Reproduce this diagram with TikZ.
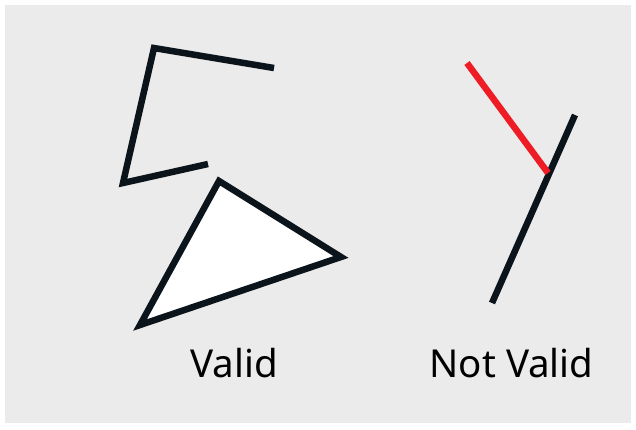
\documentclass[tikz,border=0pt]{standalone}
\usepackage{fontspec}
\setmainfont{Noto Sans}
\definecolor{bg}{HTML}{EBEBEB}
\definecolor{ink}{HTML}{0B141B}
\definecolor{redl}{HTML}{EE1C25}
\tikzset{
  seg/.style={draw=ink, line width=6.5pt, line join=miter},
  redseg/.style={draw=redl, line width=6.5pt},
  lbl/.style={font=\fontsize{38.5}{44}\selectfont, text=black, inner sep=0pt, anchor=base}
}
\begin{document}
\begin{tikzpicture}[x=1pt,y=-1pt]
\useasboundingbox (0,0) rectangle (636,429);
\fill[white] (0,0) rectangle (636,429);
\fill[bg] (5,5) rectangle (631,423);
% valid open polyline
\coordinate (p1) at (274,68);
\coordinate (p2) at (154,48);
\coordinate (p3) at (123,183);
\coordinate (p4) at (208,164);
\draw[seg] (p1) -- (p2) -- (p3) -- (p4);
% valid triangle
\coordinate (t1) at (219,181);
\coordinate (t2) at (341,257);
\coordinate (t3) at (140,325);
\filldraw[seg, fill=white] (t1) -- (t2) -- (t3) -- cycle;
% not valid
\coordinate (r1) at (467,63);
\coordinate (r2) at (548,173);
\coordinate (b1) at (575,115);
\coordinate (b2) at (492,303);
\draw[seg] (b1) -- (b2);
\draw[redseg] (r1) -- (r2);
\node[lbl] (valid) at (234,377) {Valid};
\node[lbl] (notvalid) at (511.5,377) {Not Valid};
\end{tikzpicture}
\end{document}
